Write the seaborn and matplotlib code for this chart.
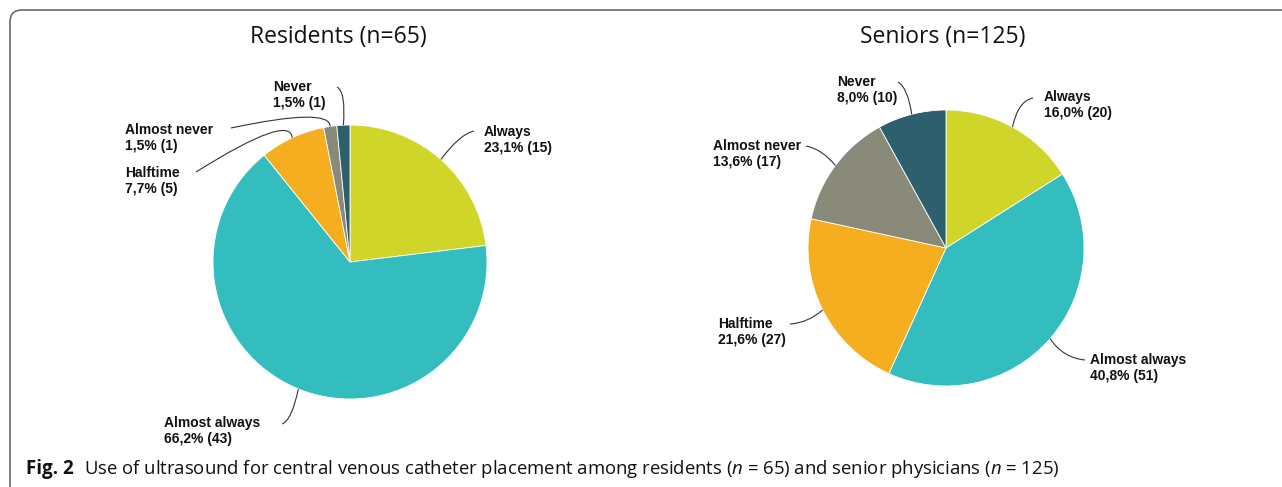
import numpy as np
import matplotlib.pyplot as plt
import seaborn as sns
from matplotlib.patches import FancyBboxPatch, PathPatch
from matplotlib.path import Path

# Data
categories = ["Always", "Almost always", "Halftime", "Almost never", "Never"]
residents_counts = [15, 43, 5, 1, 1]
seniors_counts = [20, 51, 27, 17, 10]
titles = ["Residents (n=65)", "Seniors (n=125)"]
slice_colors = ["#D0D52A", "#33BDBF", "#F5AE1F", "#8A8A7A", "#2E5F6E"]

caption_bold = "Fig. 2"
caption_text = ("Use of ultrasound for central venous catheter placement among residents "
                "($n$ = 65) and senior physicians ($n$ = 125)")

sns.set_theme(style="white")
plt.rcParams["mathtext.fontset"] = "custom"
plt.rcParams["mathtext.it"] = "Open Sans:italic"
plt.rcParams["mathtext.rm"] = "Open Sans"

W, H = 1282, 487
fig = plt.figure(figsize=(W / 100, H / 100), dpi=100)
ax = fig.add_axes([0, 0, 1, 1])

label_font = dict(family=["Liberation Sans Narrow", "Liberation Sans", "DejaVu Sans"],
                  fontweight="bold", fontsize=10, color="#111111")

# layout in pixels (y measured from top): pie centre/radius, title x,
# and per slice: text (x, y), leader start, leader control point
layouts = [
    dict(center=(350, 262), radius=137, title_x=338,
         labels=[((484, 140), (474, 131), (460, 134)),
                 ((164, 431), (282, 424), (292, 420)),
                 ((125, 181), (196, 172), (290, 113)),
                 ((125, 138), (231, 128), (330, 107)),
                 ((273, 95), (337, 87), (346, 92))]),
    dict(center=(946, 248), radius=138, title_x=943,
         labels=[((1044, 105), (1033, 98), (1018, 101)),
                 ((1090, 368), (1085, 360), (1063, 358)),
                 ((718, 332), (790, 324), (808, 323)),
                 ((713, 154), (806, 146), (822, 149)),
                 ((837, 90), (898, 82), (908, 88))]),
]


def up(p):
    return (p[0], H - p[1])


for counts, title, lay in zip([residents_counts, seniors_counts], titles, layouts):
    cx, cy = up(lay["center"])
    r = lay["radius"]
    wedges, _ = ax.pie(counts, colors=slice_colors, startangle=90, counterclock=False,
                       center=(cx, cy), radius=r,
                       wedgeprops=dict(edgecolor="white", linewidth=0.6))
    total = sum(counts)
    for w, cat, n, (tpos, start, ctrl) in zip(wedges, categories, counts, lay["labels"]):
        pct = f"{100 * n / total:.1f}".replace(".", ",")
        ax.text(*up(tpos), f"{cat}\n{pct}% ({n})", ha="left", va="center",
                linespacing=1.25, **label_font)
        # leader line from text to the middle of the slice edge
        mid = np.deg2rad((w.theta1 + w.theta2) / 2)
        anchor = (cx + r * np.cos(mid), cy + r * np.sin(mid))
        path = Path([up(start), up(ctrl), anchor], [Path.MOVETO, Path.CURVE3, Path.CURVE3])
        ax.add_patch(PathPatch(path, facecolor="none", edgecolor="#333333", lw=0.8))
    ax.text(lay["title_x"], H - 37, title, ha="center", va="center",
            fontsize=16.5, family="Open Sans", color="#111111")

# rounded frame, cut by the figure edges on the right and bottom
ax.add_patch(FancyBboxPatch((10, -30), W + 30, H - 10 + 30,
                            boxstyle="round,pad=0,rounding_size=12",
                            facecolor="none", edgecolor="#6b6b6b", lw=1.2, clip_on=True))

ax.text(26, H - 469, caption_bold, ha="left", va="center", fontsize=13.5,
        fontweight="bold", family="Open Sans", color="#111111")
ax.text(84, H - 469, caption_text, ha="left", va="center", fontsize=13.3,
        family="Open Sans", color="#111111")

ax.set_xlim(0, W)
ax.set_ylim(0, H)
ax.set_aspect("auto")
ax.axis("off")

fig.savefig("out.png", dpi=100)
